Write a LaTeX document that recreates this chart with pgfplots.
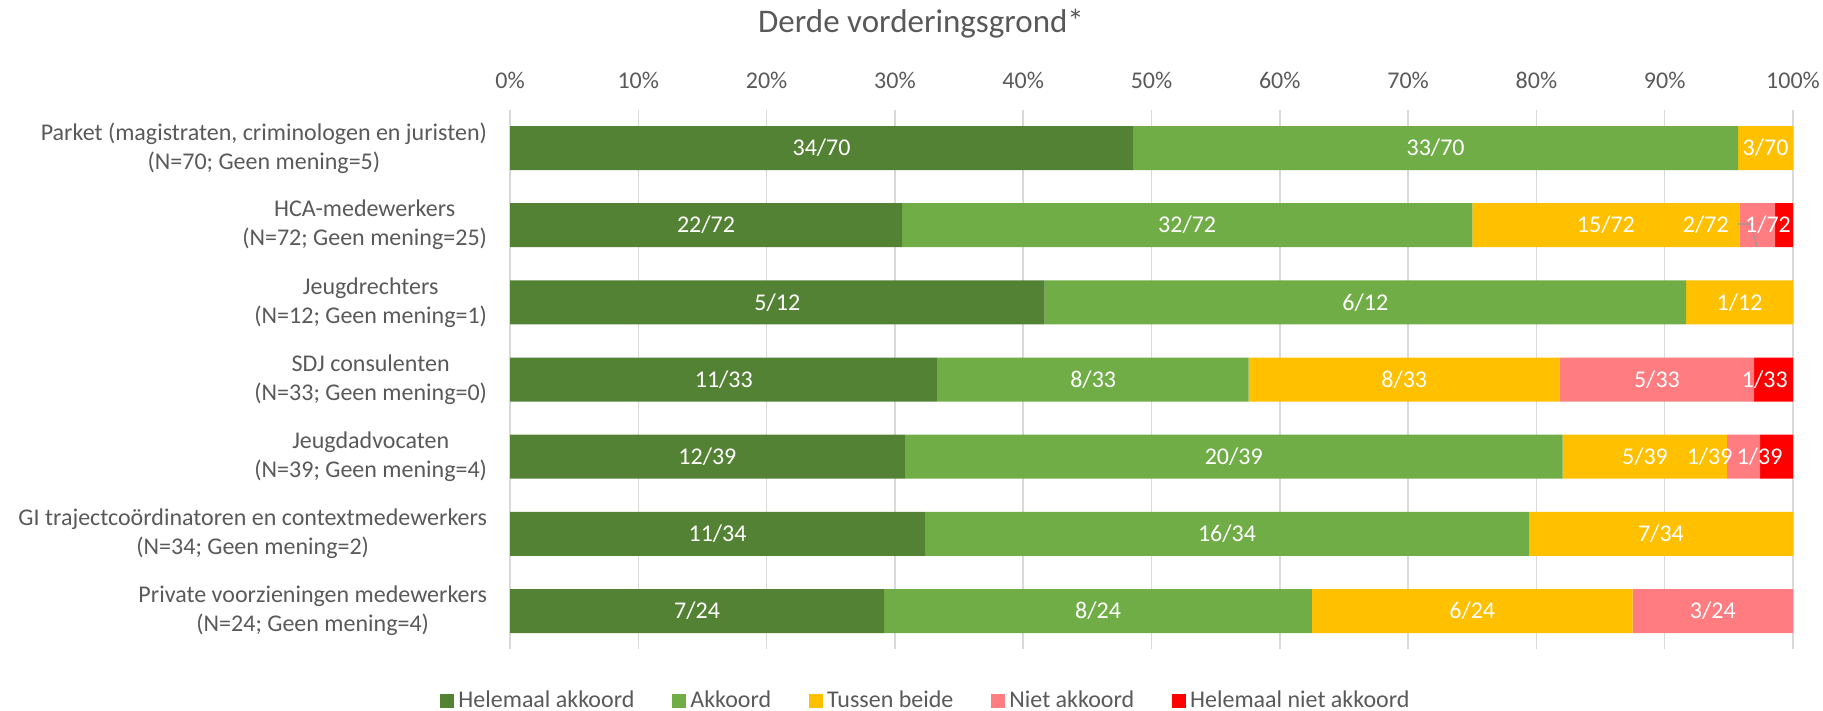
\documentclass[border=0pt]{standalone}
\usepackage{fontspec}
\setmainfont{Carlito}
\usepackage{pgfplots}
\usepackage{pgfplotstable}
\pgfplotsset{compat=1.18}
\definecolor{txt}{HTML}{595959}
\definecolor{gridc}{HTML}{D9D9D9}
\definecolor{cA}{HTML}{548235}
\definecolor{cB}{HTML}{70AD47}
\definecolor{cC}{HTML}{FFC000}
\definecolor{cD}{HTML}{FF7C80}
\definecolor{cE}{HTML}{FF0000}

\pgfplotstableread{
idx ha a tb na hna
0 48.571 47.143 4.286 0 0
1 30.556 44.444 20.833 2.778 1.389
2 41.667 50.000 8.333 0 0
3 33.333 24.242 24.242 15.152 3.030
4 30.769 51.282 12.821 2.564 2.564
5 32.353 47.059 20.588 0 0
6 29.167 33.333 25.000 12.500 0
}\datatable

\pgfplotstableread{
x y lab
24.286 0 34/70
72.143 0 33/70
97.857 0 3/70
15.278 1 22/72
52.778 1 32/72
85.417 1 15/72
93.2 1 2/72
98.05 1 1/72
20.833 2 5/12
66.667 2 6/12
95.833 2 1/12
16.667 3 11/33
45.455 3 8/33
69.697 3 8/33
89.394 3 5/33
97.8 3 1/33
15.385 4 12/39
56.410 4 20/39
88.462 4 5/39
93.5 4 1/39
97.4 4 1/39
16.176 5 11/34
55.882 5 16/34
89.706 5 7/34
14.583 6 7/24
45.833 6 8/24
75.0 6 6/24
93.75 6 3/24
}\labtable

\pgfplotsset{
  common/.style={
    at={(255pt,31pt)}, anchor=south west,
    scale only axis, width=641.5pt, height=269.5pt,
    xmin=0, xmax=100, ymin=-0.4925, ymax=6.4925,
    y dir=reverse,
  },
}
\newcommand{\lf}{\fontsize{12}{14.5}\selectfont}

\begin{document}
\begin{tikzpicture}
\useasboundingbox (0,0) rectangle (911.5pt,355.5pt);
\node[anchor=base, text=txt, font=\fontsize{16.5}{18}\selectfont] at (460.5pt,339pt) {Derde vorderingsgrond*};
\begin{axis}[common,
  xbar stacked, bar width=22pt,
  axis line style={draw=none},
  tick style={draw=none},
  xmajorgrids, grid style={draw=gridc, line width=0.75pt},
  xtick={0,10,...,100},
  xticklabels={0\%,10\%,20\%,30\%,40\%,50\%,60\%,70\%,80\%,90\%,100\%},
  xticklabel pos=upper,
  xticklabel style={anchor=base, yshift=11pt, text=txt, font=\lf},
  ytick={0,...,6},
  yticklabels={{Parket (magistraten, criminologen en juristen)\\(N=70; Geen mening=5)},
    {HCA-medewerkers\\(N=72; Geen mening=25)},
    {Jeugdrechters\\(N=12; Geen mening=1)},
    {SDJ consulenten\\(N=33; Geen mening=0)},
    {Jeugdadvocaten\\(N=39; Geen mening=4)},
    {GI trajectcoördinatoren en contextmedewerkers\\(N=34; Geen mening=2)},
    {Private voorzieningen medewerkers\\(N=24; Geen mening=4)}},
  yticklabel style={align=center, text=txt, font=\lf, xshift=-8pt},
  legend columns=5,
  legend style={at={(0.325,-0.0965)}, anchor=center, draw=none, fill=none,
    font=\lf, text=txt,
    /tikz/every even column/.append style={column sep=17pt}},
  legend cell align=left,
  legend image code/.code={\fill[#1] (0pt,-3.5pt) rectangle (7pt,3.5pt);},
]
\addplot[fill=cA, draw=none] table[x=ha, y=idx] {\datatable};
\addplot[fill=cB, draw=none] table[x=a, y=idx] {\datatable};
\addplot[fill=cC, draw=none] table[x=tb, y=idx] {\datatable};
\addplot[fill=cD, draw=none] table[x=na, y=idx] {\datatable};
\addplot[fill=cE, draw=none] table[x=hna, y=idx] {\datatable};
\legend{Helemaal akkoord, Akkoord, Tussen beide, Niet akkoord, Helemaal niet akkoord}
\end{axis}
\begin{axis}[common, hide axis]
\draw[gray!80, line width=0.6pt] (axis cs:95.7,0.985) -- (axis cs:96.7,0.985) -- (axis cs:97.2,1.28);
\addplot[draw=none, mark=none, nodes near coords, point meta=explicit symbolic,
  nodes near coords style={anchor=center, text=white, font=\lf}]
  table[x=x, y=y, meta=lab] {\labtable};
\end{axis}
\end{tikzpicture}
\end{document}
